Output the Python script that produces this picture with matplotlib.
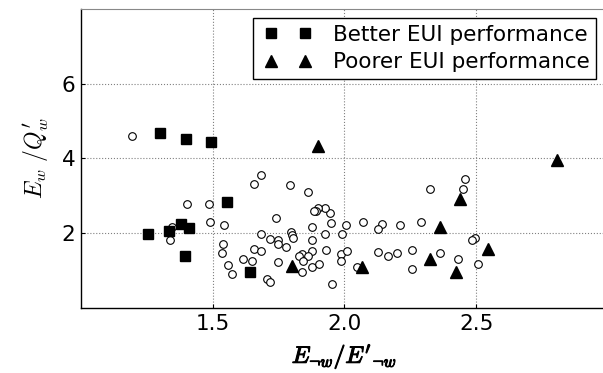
import numpy as np
import matplotlib.pyplot as plt
from matplotlib import patheffects
from matplotlib.lines import Line2D
from matplotlib.legend_handler import HandlerLine2D

plt.rcParams['font.family'] = ['DejaVu Sans']
plt.rcParams['mathtext.fontset'] = 'cm'

# other buildings (open circles)
other_x = [1.192, 1.682, 1.657, 1.794, 1.861, 1.401, 1.487, 1.490, 1.543, 1.344,
           1.338, 1.540, 1.537, 1.557, 1.572, 1.614, 1.648, 1.657, 1.684, 1.684,
           1.717, 1.739, 1.749, 1.747, 1.777, 1.749, 1.705, 1.717, 1.798, 1.799,
           1.806, 1.877, 1.877, 1.878, 1.838, 1.829, 1.863, 1.842, 1.838, 1.877,
           1.904, 1.930, 1.926, 1.948, 1.946, 1.927, 1.901, 1.893, 1.886, 1.954,
           1.990, 1.986, 1.986, 2.005, 2.009, 2.072, 2.143, 2.129, 2.212, 2.289,
           2.325, 2.457, 2.448, 2.127, 2.165, 2.199, 2.258, 2.258, 2.363, 2.432,
           2.494, 2.484, 2.507, 2.047]
other_y = [4.59, 3.57, 3.33, 3.28, 3.10, 2.78, 2.78, 2.30, 2.23, 2.17,
           1.81, 1.70, 1.48, 1.15, 0.90, 1.32, 1.26, 1.58, 1.52, 1.97,
           1.84, 2.42, 1.81, 1.72, 1.63, 1.24, 0.77, 0.69, 2.02, 1.95,
           1.87, 2.18, 1.83, 1.53, 1.44, 1.40, 1.40, 1.25, 0.97, 1.11,
           1.17, 1.56, 1.97, 2.27, 2.55, 2.68, 2.68, 2.59, 2.59, 0.64,
           1.99, 1.45, 1.26, 2.23, 1.53, 2.29, 2.25, 2.12, 2.23, 2.29,
           3.19, 3.45, 3.19, 1.51, 1.40, 1.48, 1.55, 1.05, 1.48, 1.31,
           1.87, 1.82, 1.19, 1.10]

# better EUI performance (squares)
better_x = [1.300, 1.398, 1.494, 1.253, 1.334, 1.381, 1.411, 1.395, 1.555, 1.643]
better_y = [4.67, 4.52, 4.45, 1.97, 2.06, 2.25, 2.13, 1.38, 2.83, 0.95]

# poorer EUI performance (triangles)
poorer_x = [1.899, 1.800, 2.807, 2.439, 2.363, 2.546, 2.323, 2.424, 2.068]
poorer_y = [4.33, 1.13, 3.97, 2.92, 2.17, 1.58, 1.32, 0.97, 1.09]

xticks = [1.5, 2.0, 2.5]
yticks = [2, 4, 6]

fig = plt.figure(figsize=(6.03, 3.73), dpi=100)
ax = fig.add_axes([0.1343, 0.1743, 0.874, 0.8016])

ax.plot(other_x, other_y, 'o', mfc='white', mec='black', mew=0.8, ms=5.5, ls='none')
ax.plot(better_x, better_y, 's', color='black', ms=7, ls='none', label='Better EUI performance')
ax.plot(poorer_x, poorer_y, '^', color='black', ms=8.5, ls='none', label='Poorer EUI performance')

ax.set_xlim(1.0, 3.0)
ax.set_ylim(0, 8)
ax.set_xticks(xticks)
ax.set_xticklabels(['%.1f' % v for v in xticks])
ax.set_yticks(yticks)
ax.tick_params(direction='in', length=3, labelsize=15.5, pad=4)
ax.grid(True, ls=':', color='#808080', lw=0.8)

ax.spines['top'].set_color('#888888')
for s in ['left', 'bottom']:
    ax.spines[s].set_linewidth(1.0)

# matlab-like legend: two markers per entry, set a bit apart
leg = ax.legend(loc='upper right', bbox_to_anchor=(0.977, 0.969), borderaxespad=0,
                numpoints=2, fontsize=15.5, handlelength=2.7, handletextpad=0.72,
                labelspacing=0.35, borderpad=0.3, fancybox=False, framealpha=1,
                edgecolor='black', handler_map={Line2D: HandlerLine2D(marker_pad=0.55)})
leg.get_frame().set_linewidth(1.0)

ax.set_ylabel(r"$E_w\ /Q^{\prime}_w$", fontsize=17, labelpad=8)
xl = ax.set_xlabel(r"$E_{\neg w}/E'_{\neg w}$", fontsize=17, labelpad=6)
xl.set_path_effects([patheffects.withStroke(linewidth=0.8, foreground='black')])

fig.savefig('out.png', dpi=100)
